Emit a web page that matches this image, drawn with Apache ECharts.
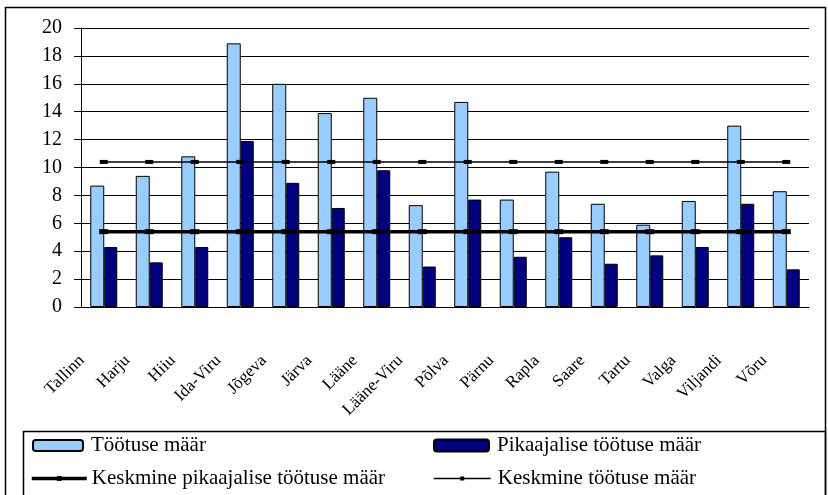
<!DOCTYPE html>
<html>
<head>
<meta charset="utf-8">
<title>Töötuse määr maakonniti</title>
<script src="https://cdn.jsdelivr.net/npm/echarts@6/dist/echarts.min.js"></script>
<style>
  html, body { margin: 0; padding: 0; background: #fff; }
  #chart { width: 828px; height: 495px; }
</style>
</head>
<body>
<div id="chart"></div>
<script>
// maakonnad
var categories = ["Tallinn", "Harju", "Hiiu", "Ida-Viru", "Jõgeva", "Järva", "Lääne", "Lääne-Viru",
  "Põlva", "Pärnu", "Rapla", "Saare", "Tartu", "Valga", "Viljandi", "Võru"];

// loetud pildilt
var tootuseMaar = [8.7, 9.4, 10.8, 18.9, 16.0, 13.9, 15.0, 7.3, 14.7, 7.7, 9.7, 7.4, 5.9, 7.6, 13.0, 8.3];
var pikaajaliseMaar = [4.3, 3.2, 4.3, 11.9, 8.9, 7.1, 9.8, 2.9, 7.7, 3.6, 5.0, 3.1, 3.7, 4.3, 7.4, 2.7];
var keskminePikaajalise = [5.4, 5.4, 5.4, 5.4, 5.4, 5.4, 5.4, 5.4, 5.4, 5.4, 5.4, 5.4, 5.4, 5.4, 5.4, 5.4];
var keskmineTootuse = [10.4, 10.4, 10.4, 10.4, 10.4, 10.4, 10.4, 10.4, 10.4, 10.4, 10.4, 10.4, 10.4, 10.4, 10.4, 10.4];

var yTicks = [0, 2, 4, 6, 8, 10, 12, 14, 16, 18, 20];

var seriesNames = ['Töötuse määr', 'Pikaajalise töötuse määr',
  'Keskmine pikaajalise töötuse määr', 'Keskmine töötuse määr'];

var font = 'Liberation Serif';

var myChart = echarts.init(document.getElementById('chart'));

function legendAt(name, left, top, w, h, gap, lineW) {
  var l = {
    data: [name],
    left: left,
    top: top,
    padding: 0,
    itemWidth: w,
    itemHeight: h,
    textStyle: { fontFamily: font, fontSize: 21, color: '#000', padding: [0, 0, 0, gap] }
  };
  if (lineW) {
    l.lineStyle = { width: lineW, color: '#000' };
  }
  return l;
}

var option = {
  animation: false,
  backgroundColor: '#fff',
  graphic: [
    {
      type: 'rect',
      shape: { x: 5.5, y: 7.5, width: 820, height: 495 },
      style: { fill: null, stroke: '#000', lineWidth: 1.5 },
      silent: true
    },
    {
      type: 'rect',
      shape: { x: 23.5, y: 431.5, width: 802, height: 70 },
      style: { fill: null, stroke: '#000', lineWidth: 1.5 },
      silent: true
    }
  ],
  legend: [
    legendAt(seriesNames[0], 32, 435, 50, 11, 3),
    legendAt(seriesNames[1], 433, 435, 55, 12, 3),
    legendAt(seriesNames[2], 30, 468, 55, 6, 0, 3.5),
    legendAt(seriesNames[3], 433, 468, 57, 5, 2, 1.5)
  ],
  grid: {
    left: 81,
    right: 19,
    top: 28,
    bottom: 188
  },
  xAxis: [
    {
      type: 'category',
      data: categories,
      axisLine: { lineStyle: { color: '#000', width: 1 } },
      axisTick: { length: 6, lineStyle: { color: '#000' } },
      axisLabel: {
        interval: 0,
        rotate: 45,
        margin: 29,
        padding: [0, 31, 0, 0],
        fontFamily: font,
        fontSize: 17,
        color: '#000'
      }
    },
    {
      // ristuvad tikid
      type: 'category',
      data: categories,
      position: 'bottom',
      axisLine: { show: false },
      axisTick: { inside: true, length: 5, lineStyle: { color: '#000' } },
      axisLabel: { show: false }
    }
  ],
  yAxis: {
    type: 'value',
    min: yTicks[0],
    max: yTicks[yTicks.length - 1],
    interval: 2,
    axisLine: { show: true, lineStyle: { color: '#000', width: 1 } },
    axisTick: { show: true, length: 7, lineStyle: { color: '#000' } },
    splitLine: { lineStyle: { color: '#000', width: 1 } },
    axisLabel: { margin: 19, fontFamily: font, fontSize: 20, color: '#000' }
  },
  series: [
    {
      name: seriesNames[0],
      type: 'bar',
      data: tootuseMaar,
      barWidth: 14,
      barGap: '0%',
      itemStyle: { color: '#99CCFF', borderColor: '#000', borderWidth: 1 }
    },
    {
      name: seriesNames[1],
      type: 'bar',
      data: pikaajaliseMaar,
      barWidth: 13,
      barGap: '0%',
      itemStyle: { color: '#000080', borderColor: '#000', borderWidth: 1 }
    },
    {
      name: seriesNames[2],
      type: 'line',
      data: keskminePikaajalise,
      z: 5,
      symbol: 'rect',
      symbolSize: [9, 5],
      itemStyle: { color: '#000' },
      lineStyle: { color: '#000', width: 3.5 }
    },
    {
      name: seriesNames[3],
      type: 'line',
      data: keskmineTootuse,
      z: 5,
      symbol: 'rect',
      symbolSize: [8, 4],
      itemStyle: { color: '#000' },
      lineStyle: { color: '#000', width: 1.5 }
    }
  ]
};

myChart.setOption(option);
</script>
</body>
</html>
